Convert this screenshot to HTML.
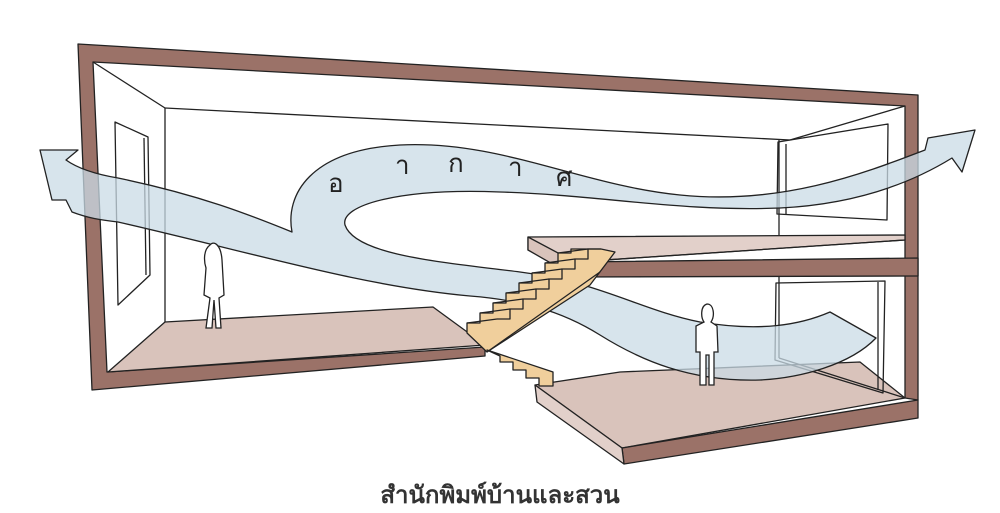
<!DOCTYPE html>
<html><head><meta charset="utf-8"><style>
html,body{margin:0;padding:0;background:#fff;}
svg{display:block}
</style></head><body>
<svg width="1000" height="513" viewBox="0 0 1000 513" xmlns="http://www.w3.org/2000/svg">
<g stroke="#222" stroke-width="1.3" stroke-linejoin="round" fill="none">
<!-- lower-right floor -->
<polygon points="535,385 620,372 860,362 905,398 622,448" fill="#d9c3bb"/>
<polygon points="622,448 918,400 918,418 624,464" fill="#9b7268"/>
<polygon points="535,385 622,448 624,464 537,402" fill="#e2d0ca"/>
<!-- frame -->
<path d="M78,44 L918,95 L918,400 L905,398 L905,106 L93,62 L107,372 L485,347 L485,356 L92,390 Z" fill="#9b7268"/>
<!-- left floor -->
<polygon points="108,372 165,322 433,307 485,345" fill="#d9c3bb"/>
<!-- back walls lines -->
<line x1="93" y1="62" x2="165" y2="108"/>
<line x1="165" y1="108" x2="165" y2="322"/>
<line x1="165" y1="108" x2="790" y2="140"/>
<line x1="790" y1="140" x2="905" y2="106"/>
<line x1="779" y1="140" x2="779" y2="235"/>
<line x1="779" y1="268" x2="779" y2="358"/>
<line x1="779" y1="358" x2="905" y2="398"/>
<!-- left window -->
<polygon points="115,122 148,137 150,275 118,305"/>
<line x1="144" y1="138" x2="146" y2="275"/>
<!-- right window upper -->
<polygon points="778,142 888,124 887,220 777,214"/>
<line x1="786" y1="144" x2="786" y2="214"/>
<!-- right door lower -->
<polygon points="776,283 885,281 883,393 775,360"/>
<line x1="878" y1="282" x2="878" y2="390"/>
<!-- upper slab -->
<polygon points="528,237 905,235 905,240 575,262 528,250" fill="#e2d0ca"/>
<polygon points="575,262 918,258 918,276 575,277" fill="#9b7268"/>
<polygon points="528,237 575,262 575,277 528,250" fill="#d9c3bb"/>
<line x1="905" y1="240" x2="575" y2="262"/>
<!-- air band -->
<path d="M118,178 C200,195 250,215 292,232 C285,195 310,150 400,145 C500,140 580,185 680,195 C780,205 860,175 925,150 L928,138 L975,130 L962,172 L952,158 C900,190 840,205 780,208 C680,212 600,195 500,192 C400,188 340,205 345,225 C355,255 440,262 520,272 C600,282 640,310 700,322 C760,332 800,325 830,312 L876,338 C850,365 800,378 760,380 C690,382 640,360 600,335 C560,310 520,300 470,296 C360,286 250,252 118,222 C100,220 88,218 72,212 L66,200 L52,200 L40,150 L78,150 L66,160 C80,170 100,175 118,178 Z" fill="#c9dbe6" fill-opacity="0.75"/>
<!-- stairs -->
<polygon points="467,333 467,323 480,323 480,313 493,313 493,303 506,303 506,293 519,293 519,283 532,283 532,273 545,273 545,263 558,263 558,253 571,253 571,249 601,249 615,252 590,285 487,352" fill="#f0cf9c"/>
<polyline points="497,319 510,319 510,309 523,309 523,299 536,299 536,289 549,289 549,279 562,279 562,269 575,269 575,259 588,259 588,249 601,249"/>
<line x1="467" y1="323" x2="497" y2="319"/><line x1="480" y1="313" x2="510" y2="309"/>
<line x1="493" y1="303" x2="523" y2="299"/><line x1="506" y1="293" x2="536" y2="289"/>
<line x1="519" y1="283" x2="549" y2="279"/><line x1="532" y1="273" x2="562" y2="269"/>
<line x1="545" y1="263" x2="575" y2="259"/><line x1="558" y1="253" x2="588" y2="249"/>
<line x1="487" y1="352" x2="600" y2="272"/>
<polygon points="487,350 553,372 553,386 539,386 539,378 526,378 526,370 513,370 513,362 500,362 500,356" fill="#f0cf9c"/>
</g>
<!-- people -->
<g stroke="#222" stroke-width="1.3" fill="#fff">
<path d="M210,245 C203,250 204,262 206,268 L204,295 L210,298 L206,328 L212,328 L214,300 L216,328 L221,328 L219,298 L224,295 L222,260 C221,245 214,240 210,245 Z"/>
<path d="M707,304 C700,306 701,318 704,322 L696,326 L696,352 L700,352 L700,385 L706,385 L706,355 L709,355 L709,385 L714,385 L714,352 L718,352 L717,326 L711,322 C715,316 714,304 707,304 Z"/>
</g>
<g font-family="Liberation Sans, sans-serif" font-size="26" fill="#222">
<text x="328" y="192">อ</text>
<text x="395" y="174">า</text>
<text x="448" y="172">ก</text>
<text x="508" y="176">า</text>
<text x="556" y="186">ศ</text>
</g>
<text x="500" y="503" text-anchor="middle" font-family="Liberation Sans, 'Noto Sans CJK SC', sans-serif" font-size="24" font-weight="bold" fill="#333">สำนักพิมพ์บ้านและสวน</text>
</svg>
</body></html>
